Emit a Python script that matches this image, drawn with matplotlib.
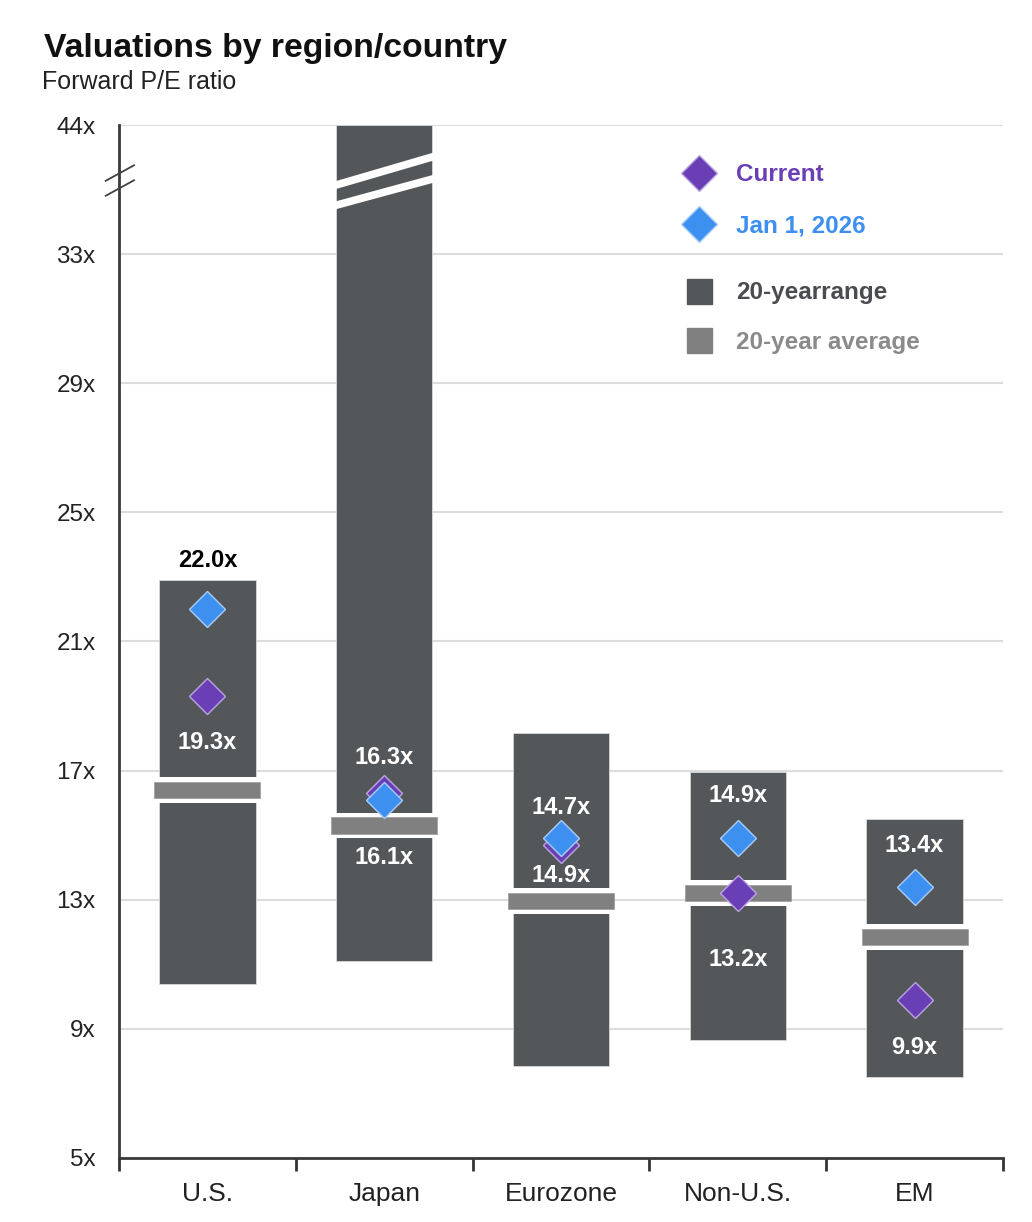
import numpy as np
import matplotlib
matplotlib.use("Agg")
import matplotlib.pyplot as plt
from matplotlib.lines import Line2D

plt.rcParams['font.family'] = ['Liberation Sans', 'DejaVu Sans']

# data
regions = ["U.S.", "Japan", "Eurozone", "Non-U.S.", "EM"]
range_low = [10.4, 11.1, 7.85, 8.65, 7.5]
range_high = [22.9, 44.0, 18.15, 16.95, 15.5]
avg_20y = [16.4, 15.3, 12.95, 13.2, 11.85]
current = [19.3, 16.3, 14.7, 13.2, 9.9]
jan_2026 = [22.0, 16.1, 14.9, 14.9, 13.4]
upper_labels = ["22.0x", "16.3x", "14.7x", "14.9x", "13.4x"]
lower_labels = ["19.3x", "16.1x", "14.9x", "13.2x", "9.9x"]
yticks = [5, 9, 13, 17, 21, 25, 29, 33, 44]

# label offsets (points) above / below the diamonds
upper_off = [35, 26, 22, 31, 30]
lower_off = [33, 42, 22, 48, 34]

C_RANGE = "#54575a"
C_AVG = "#808080"
C_CUR = "#6a3fb5"
C_JAN = "#3d8ff0"


def fwd(v):
    v = np.asarray(v, dtype=float)
    return np.where(v <= 33, v, 33 + (v - 33) * 4 / 11)


def inv(v):
    v = np.asarray(v, dtype=float)
    return np.where(v <= 33, v, 33 + (v - 33) * 11 / 4)


fig = plt.figure(figsize=(10.32, 12.22), dpi=100)
ax = fig.add_axes([0.1153, 0.0524, 0.8566, 0.8453])
ax.set_yscale('function', functions=(fwd, inv))
ax.set_ylim(5, 44)
ax.set_xlim(-0.5, 4.5)

x = np.arange(len(regions))
heights = [h - l for h, l in zip(range_high, range_low)]
ax.bar(x, heights, bottom=range_low, width=0.545, color=C_RANGE,
       edgecolor="#d8d8d8", linewidth=0.6, zorder=2)

# 20-year average: white backing then gray band
ax.bar(x, 0.8, bottom=np.array(avg_20y) - 0.4, width=0.6, color="white",
       zorder=3)
ax.bar(x, 0.5, bottom=np.array(avg_20y) - 0.25, width=0.6, color=C_AVG,
       edgecolor="#9a9a9a", linewidth=0.5, zorder=4)

ax.plot(x, current, linestyle="none", marker="D", markersize=18,
        markerfacecolor=C_CUR, markeredgecolor="#b9a6e0", markeredgewidth=1,
        zorder=5)
ax.plot(x, jan_2026, linestyle="none", marker="D", markersize=18,
        markerfacecolor=C_JAN, markeredgecolor="#a9cdf7", markeredgewidth=1,
        zorder=6)

for i in range(len(regions)):
    top = max(current[i], jan_2026[i])
    bot = min(current[i], jan_2026[i])
    col = "white" if top + 1.3 < range_high[i] else "black"
    ax.annotate(upper_labels[i], (x[i], top), xytext=(0, upper_off[i]),
                textcoords="offset points", ha="center", va="center",
                fontsize=17, fontweight="bold", color=col, zorder=7)
    ax.annotate(lower_labels[i], (x[i], bot), xytext=(0, -lower_off[i]),
                textcoords="offset points", ha="center", va="center",
                fontsize=17, fontweight="bold", color="white", zorder=7)

# break in the Japan bar
for y0, y1 in [(0.941, 0.970), (0.9215, 0.9485)]:
    ax.plot([1 - 0.29, 1 + 0.29], [y0, y1], color="white", linewidth=5.5,
            transform=ax.get_xaxis_transform(), zorder=4, solid_capstyle="butt")

# break marks on the y axis
for dy in (0.0, -0.0145):
    ax.plot([-0.015, 0.017], [0.946 + dy, 0.961 + dy], color="#404040",
            linewidth=1.3, transform=ax.transAxes, clip_on=False, zorder=8)

ax.set_yticks(yticks)
ax.set_yticklabels([f"{t}x" for t in yticks])
ax.yaxis.set_minor_locator(matplotlib.ticker.NullLocator())
ax.tick_params(axis="y", length=0, pad=17, labelsize=17.5, labelcolor="#222222")
ax.set_xticks(x)
ax.set_xticklabels(regions)
ax.set_xticks(np.arange(-0.5, 4.6, 1), minor=True)
ax.tick_params(axis="x", which="major", length=0, pad=17, labelsize=19,
               labelcolor="#222222")
ax.tick_params(axis="x", which="minor", length=9, width=2, color="#333333",
               direction="out")

ax.grid(axis="y", color="#dcdcdc", linewidth=1.5, zorder=0)
ax.set_axisbelow(True)
for side in ("top", "right"):
    ax.spines[side].set_visible(False)
for side in ("left", "bottom"):
    ax.spines[side].set_color("#3a3a3a")
    ax.spines[side].set_linewidth(2)

# legends
h1 = [Line2D([], [], linestyle="none", marker="D", markersize=18,
             markerfacecolor=C_CUR, markeredgecolor="#b9a6e0"),
      Line2D([], [], linestyle="none", marker="D", markersize=18,
             markerfacecolor=C_JAN, markeredgecolor="#a9cdf7")]
leg1 = ax.legend(h1, ["Current", "Jan 1, 2026"], loc="upper left",
                 bbox_to_anchor=(0.6125, 0.984), frameon=False,
                 prop={"size": 17.5, "weight": "bold"},
                 labelcolor=[C_CUR, C_JAN], handletextpad=0.85,
                 labelspacing=1.15, handlelength=1.35)
ax.add_artist(leg1)
h2 = [Line2D([], [], linestyle="none", marker="s", markersize=18,
             markerfacecolor=C_RANGE, markeredgecolor=C_RANGE),
      Line2D([], [], linestyle="none", marker="s", markersize=18,
             markerfacecolor=C_AVG, markeredgecolor=C_AVG)]
ax.legend(h2, ["20-yearrange", "20-year average"], loc="upper left",
          bbox_to_anchor=(0.6125, 0.87), frameon=False,
          prop={"size": 17.5, "weight": "bold"},
          labelcolor=["#4a4c4f", "#8a8a8a"], handletextpad=0.85,
          labelspacing=1.1, handlelength=1.35)

fig.text(0.043, 0.953, "Valuations by region/country", fontsize=24.3,
         fontweight="bold", color="#111111", va="baseline")
fig.text(0.041, 0.927, "Forward P/E ratio", fontsize=18, color="#222222",
         va="baseline")

fig.savefig("out.png", dpi=100)
